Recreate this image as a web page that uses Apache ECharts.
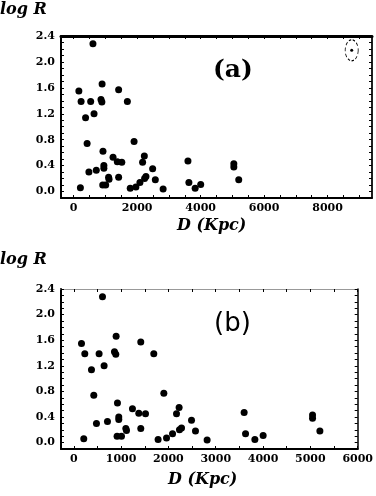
<!DOCTYPE html>
<html>
<head>
<meta charset="utf-8">
<script src="https://cdn.jsdelivr.net/npm/echarts@6/dist/echarts.min.js"></script>
<style>
  html, body { margin: 0; padding: 0; background: #fff; }
  #chart { width: 376px; height: 496px; }
</style>
</head>
<body>
<div id="chart"></div>
<script>
// distance D (Kpc) and log R
const distD = [163, 233, 607, 374, 535, 641, 423, 895, 860, 888, 923, 951, 951, 479, 712,
  211, 915, 1008, 1100, 1114, 1240, 1374, 1516, 1416, 1416, 1691, 1903, 2226, 2171, 2277,
  2234, 2488, 2572, 2087, 1960, 1782, 2818, 3600, 3630, 3827, 4002, 5046, 5046, 5201];
const logR = [1.55, 1.39, 2.28, 1.14, 1.39, 1.20, 0.74, 1.66, 1.42, 1.38, 0.62, 0.40, 0.36, 0.30, 0.33,
  0.06, 0.10, 0.10, 0.22, 0.19, 0.53, 0.46, 0.45, 0.22, 1.57, 1.39, 0.77, 0.55, 0.45, 0.23,
  0.20, 0.35, 0.18, 0.14, 0.07, 0.05, 0.04, 0.47, 0.14, 0.05, 0.11, 0.43, 0.38, 0.18];

// circled outlier, only in panel (a)
const outlierD = [8760];
const outlierR = [2.18];

const yLabels = [0, 0.4, 0.8, 1.2, 1.6, 2.0, 2.4];
const xLabelsA = [0, 2000, 4000, 6000, 8000];
const xLabelsB = [0, 1000, 2000, 3000, 4000, 5000, 6000];

function range(a, b, step) {
  const out = [];
  for (let v = a; v <= b + 1e-9; v += step) out.push(Math.round(v * 100) / 100);
  return out;
}

const tickFont = { fontFamily: 'DejaVu Serif', fontWeight: 'bold', fontSize: 11, color: '#000' };

function bottomX(grid, min, max, labels, ticks) {
  return {
    gridIndex: grid, type: 'value', min: min, max: max, position: 'bottom',
    splitLine: { show: false },
    axisLine: { onZero: false, lineStyle: { color: '#000', width: 2 } },
    axisTick: { inside: true, length: 3, customValues: ticks, lineStyle: { color: '#000' } },
    axisLabel: Object.assign({ customValues: labels, margin: 5, formatter: v => String(v) }, tickFont)
  };
}

function topX(grid, min, max, ticks, lineColor, lineWidth) {
  return {
    gridIndex: grid, type: 'value', min: min, max: max, position: 'top',
    splitLine: { show: false },
    axisLine: { onZero: false, lineStyle: { color: lineColor, width: lineWidth } },
    axisTick: { inside: true, length: 3, customValues: ticks, lineStyle: { color: '#000' } },
    axisLabel: { show: false }
  };
}

function leftY(grid) {
  return {
    gridIndex: grid, type: 'value', min: -0.1, max: 2.4, position: 'left',
    splitLine: { show: false },
    axisLine: { onZero: false, lineStyle: { color: '#000', width: 2 } },
    axisTick: { inside: true, length: 3, customValues: range(0, 2.4, 0.1), lineStyle: { color: '#000' } },
    axisLabel: Object.assign({ customValues: yLabels, margin: 6, formatter: v => v.toFixed(1) }, tickFont)
  };
}

function rightY(grid) {
  return {
    gridIndex: grid, type: 'value', min: -0.1, max: 2.4, position: 'right',
    splitLine: { show: false },
    axisLine: { onZero: false, lineStyle: { color: '#000', width: 1.5 } },
    axisTick: { inside: true, length: 3, customValues: range(0, 2.4, 0.1), lineStyle: { color: '#000' } },
    axisLabel: { show: false }
  };
}

const points = distD.map((d, i) => [d, logR[i]]);
const outliers = outlierD.map((d, i) => [d, outlierR[i]]);

const chart = echarts.init(document.getElementById('chart'), null, { renderer: 'canvas' });

const option = {
  animation: false,
  backgroundColor: '#fff',
  grid: [
    { left: 61, top: 36, width: 311, height: 162, show: true, borderColor: '#000', borderWidth: 1, backgroundColor: 'transparent' },
    { left: 61, top: 289, width: 298, height: 160 }
  ],
  xAxis: [
    bottomX(0, -400, 9400, xLabelsA, range(0, 9000, 500)),
    bottomX(1, -270, 6000, xLabelsB, range(0, 6000, 500)),
    topX(0, -400, 9400, range(0, 9000, 500), '#000', 3),
    topX(1, -270, 6000, range(0, 6000, 500), '#999', 1)
  ],
  yAxis: [leftY(0), leftY(1), rightY(0), rightY(1)],
  series: [
    {
      type: 'scatter', xAxisIndex: 0, yAxisIndex: 0, data: points,
      symbolSize: 7, itemStyle: { color: '#000', opacity: 1 }
    },
    {
      type: 'scatter', xAxisIndex: 0, yAxisIndex: 0, data: outliers,
      symbolSize: 3, itemStyle: { color: '#000', opacity: 1 }
    },
    {
      // dotted ring around the outlier
      type: 'scatter', xAxisIndex: 0, yAxisIndex: 0, data: outliers,
      symbolSize: [13, 21],
      itemStyle: { color: 'rgba(0,0,0,0)', opacity: 1, borderColor: '#000', borderWidth: 1, borderType: [3, 2] }
    },
    {
      type: 'scatter', xAxisIndex: 1, yAxisIndex: 1, data: points,
      symbolSize: 7, itemStyle: { color: '#000', opacity: 1 }
    }
  ],
  graphic: [
    { type: 'text', left: 0, top: 2, style: { text: 'log R', font: 'italic bold 16px "DejaVu Serif"', fill: '#000' } },
    { type: 'text', left: 177, top: 218, style: { text: 'D (Kpc)', font: 'italic bold 16px "DejaVu Serif"', fill: '#000' } },
    { type: 'text', left: 213, top: 58, style: { text: '(a)', font: 'bold 25px "DejaVu Serif"', fill: '#000' } },
    { type: 'text', left: 0, top: 252, style: { text: 'log R', font: 'italic bold 16px "DejaVu Serif"', fill: '#000' } },
    { type: 'text', left: 168, top: 472, style: { text: 'D (Kpc)', font: 'italic bold 16px "DejaVu Serif"', fill: '#000' } },
    { type: 'text', left: 214, top: 311, style: { text: '(b)', font: '26px "DejaVu Sans"', fill: '#000' } }
  ]
};

chart.setOption(option);
</script>
</body>
</html>
